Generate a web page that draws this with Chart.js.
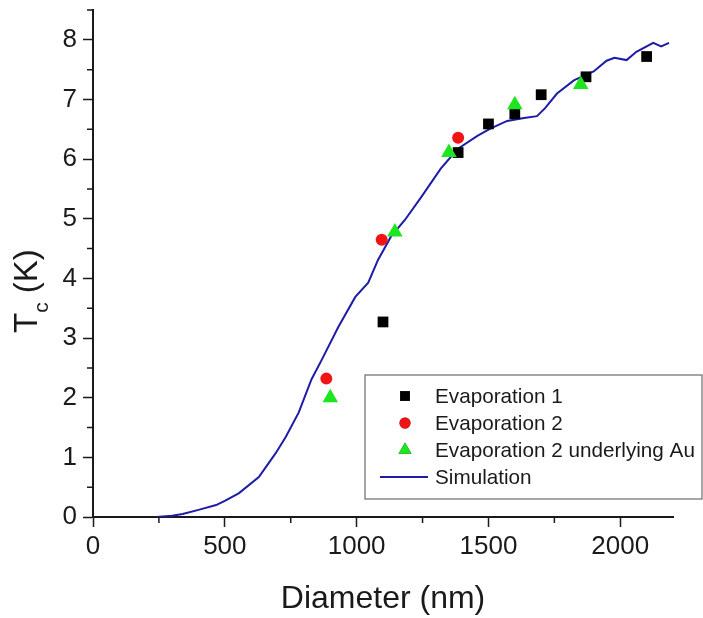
<!DOCTYPE html>
<html>
<head>
<meta charset="utf-8">
<title>Tc vs diameter</title>
<script src="https://cdn.jsdelivr.net/npm/chart.js@4.4.1/dist/chart.umd.min.js"></script>
<style>
  html, body { margin: 0; padding: 0; background: #fff; }
  canvas { display: block; }
</style>
</head>
<body>
<canvas id="tcChart" width="703" height="618"></canvas>
<script>
// data
const evap1X = [1100, 1385, 1500, 1600, 1700, 1870, 2100];
const evap1Y = [3.27, 6.11, 6.59, 6.76, 7.08, 7.38, 7.72];

const evap2X = [885, 1095, 1385];
const evap2Y = [2.32, 4.65, 6.36];

const auX = [900, 1145, 1350, 1600, 1850];
const auY = [2.0, 4.78, 6.11, 6.91, 7.25];

const simX = [240, 300, 340, 400, 467, 500, 554, 629, 693, 731, 780, 829, 867, 931, 995, 1044, 1081, 1130, 1183, 1243, 1319, 1383, 1458, 1507, 1571, 1635, 1684, 1714, 1760, 1824, 1873, 1899, 1948, 1978, 2024, 2061, 2125, 2155, 2185];
const simY = [0, 0.02, 0.05, 0.12, 0.2, 0.27, 0.4, 0.67, 1.07, 1.34, 1.75, 2.31, 2.63, 3.19, 3.69, 3.93, 4.31, 4.70, 4.98, 5.35, 5.84, 6.17, 6.39, 6.51, 6.64, 6.69, 6.72, 6.85, 7.10, 7.32, 7.42, 7.47, 7.65, 7.70, 7.66, 7.80, 7.95, 7.89, 7.95];

const xTicks = [0, 500, 1000, 1500, 2000];
const xMinor = [250, 750, 1250, 1750];
const yTicks = [0, 1, 2, 3, 4, 5, 6, 7, 8];
const yMinor = [0.5, 1.5, 2.5, 3.5, 4.5, 5.5, 6.5, 7.5, 8.5];

const ink = "#1a1a1a";
const font = "'Liberation Sans', Arial, sans-serif";

const pts = (xs, ys) => xs.map((x, i) => ({ x: x, y: ys[i] }));

// minor ticks, y title with subscript, boxed legend inside the plot
const extras = {
  id: "extras",
  afterDraw(chart) {
    const ctx = chart.ctx;
    const xs = chart.scales.x, ys = chart.scales.y;
    const area = chart.chartArea;

    ctx.save();
    ctx.strokeStyle = ink;
    ctx.lineWidth = 1.5;
    ctx.beginPath();
    xMinor.forEach((v) => {
      const px = xs.getPixelForValue(v);
      ctx.moveTo(px, area.bottom);
      ctx.lineTo(px, area.bottom + 6);
    });
    yMinor.forEach((v) => {
      const py = ys.getPixelForValue(v);
      ctx.moveTo(area.left, py);
      ctx.lineTo(area.left - 6, py);
    });
    ctx.stroke();
    ctx.restore();

    // T_c (K)
    ctx.save();
    ctx.fillStyle = ink;
    ctx.translate(37, 333);
    ctx.rotate(-Math.PI / 2);
    ctx.textBaseline = "alphabetic";
    ctx.textAlign = "left";
    ctx.font = "33px " + font;
    ctx.fillText("T", 0, 0);
    let w = ctx.measureText("T").width;
    ctx.font = "21px " + font;
    ctx.fillText("c", w, 11);
    w += ctx.measureText("c").width;
    ctx.font = "33px " + font;
    ctx.fillText(" (K)", w, 0);
    ctx.restore();

    // legend
    const box = { left: 365, top: 375, right: 702, bottom: 499 };
    const rows = [396, 423, 450, 477];
    ctx.save();
    ctx.fillStyle = "#fff";
    ctx.fillRect(box.left, box.top, box.right - box.left, box.bottom - box.top);
    ctx.strokeStyle = "#6b6b6b";
    ctx.lineWidth = 1.2;
    ctx.strokeRect(box.left, box.top, box.right - box.left, box.bottom - box.top);
    ctx.font = "20.7px " + font;
    ctx.textBaseline = "middle";
    ctx.textAlign = "left";
    chart.data.datasets.forEach((ds, i) => {
      const y = rows[i];
      if (ds.showLine) {
        ctx.strokeStyle = ds.borderColor;
        ctx.lineWidth = 2;
        ctx.beginPath();
        ctx.moveTo(380, y);
        ctx.lineTo(428, y);
        ctx.stroke();
      } else {
        Chart.helpers.drawPoint(ctx, {
          pointStyle: ds.pointStyle,
          radius: ds.legendRadius,
          rotation: 0,
          borderWidth: 0,
        }, 405, y);
        ctx.fillStyle = ds.backgroundColor;
        ctx.fill();
      }
      ctx.fillStyle = ink;
      ctx.fillText(ds.label, 435, y + 1);
    });
    ctx.restore();
  },
};

new Chart(document.getElementById("tcChart"), {
  type: "scatter",
  data: {
    datasets: [
      {
        label: "Evaporation 1",
        data: pts(evap1X, evap1Y),
        pointStyle: "rect",
        pointRadius: 7.6,
        legendRadius: 7,
        backgroundColor: "#000000",
        borderColor: "#000000",
        borderWidth: 0,
        order: 2,
      },
      {
        label: "Evaporation 2",
        data: pts(evap2X, evap2Y),
        pointStyle: "circle",
        pointRadius: 6,
        legendRadius: 5.5,
        backgroundColor: "#f01414",
        borderColor: "#f01414",
        borderWidth: 0,
        order: 3,
      },
      {
        label: "Evaporation 2 underlying Au",
        data: pts(auX, auY),
        pointStyle: "triangle",
        pointRadius: 9,
        legendRadius: 7.5,
        backgroundColor: "#1ee61e",
        borderColor: "#1ee61e",
        borderWidth: 0,
        order: 1,
      },
      {
        label: "Simulation",
        data: pts(simX, simY),
        showLine: true,
        pointRadius: 0,
        borderColor: "#1c1ca6",
        borderWidth: 2,
        tension: 0,
        fill: false,
        order: 4,
      },
    ],
  },
  options: {
    responsive: false,
    animation: false,
    events: [],
    layout: { padding: { top: 10, right: 30, bottom: 0, left: 0 } },
    plugins: {
      legend: { display: false },
      tooltip: { enabled: false },
    },
    scales: {
      x: {
        type: "linear",
        min: 0,
        max: 2200,
        afterBuildTicks: (s) => { s.ticks = xTicks.map((v) => ({ value: v })); },
        afterFit: (s) => { s.height = 101; s.paddingLeft = 0; s.paddingRight = 0; },
        grid: { drawOnChartArea: false, drawTicks: true, tickLength: 10, tickColor: ink, tickWidth: 1.5 },
        border: { display: true, color: ink, width: 2 },
        ticks: { color: ink, font: { size: 26, family: font }, padding: 4, maxRotation: 0, callback: (v) => String(v) },
        title: {
          display: true,
          text: "Diameter (nm)",
          color: ink,
          font: { size: 32, family: font },
          padding: { top: 0, bottom: 0 },
        },
      },
      y: {
        type: "linear",
        min: 0,
        max: 8.5,
        afterBuildTicks: (s) => { s.ticks = yTicks.map((v) => ({ value: v })); },
        afterFit: (s) => { s.width = 93; s.paddingTop = 0; s.paddingBottom = 0; },
        grid: { drawOnChartArea: false, drawTicks: true, tickLength: 10, tickColor: ink, tickWidth: 1.5 },
        border: { display: true, color: ink, width: 2 },
        ticks: { color: ink, font: { size: 26, family: font }, padding: 6, callback: (v) => String(v) },
      },
    },
  },
  plugins: [extras],
});
</script>
</body>
</html>
